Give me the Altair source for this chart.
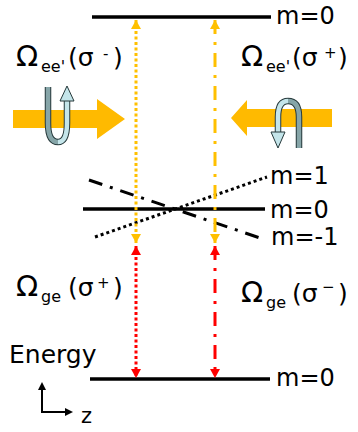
import altair as alt
import pandas as pd

W, H = 358, 432

# Energy levels (screen units, y grows downward) and their horizontal extent
level_y = [17, 209, 379]
level_x0 = [92, 83, 90]
level_x1 = [271, 265, 270]
level_text = ["m=0", "m=0", "m=0"]
level_text_x = [276, 270, 276]
level_text_y = [24, 218, 386]

# Zeeman-shifted sublevels of the middle state
sub_text = ["m=1", "m=-1"]
sub_x0 = [95, 89]
sub_y0 = [237, 180]
sub_x1 = [267, 263]
sub_y1 = [177, 239]
sub_text_x = [270, 271]
sub_text_y = [184, 245]

# Coupling beams: sigma+/sigma- columns and their end points
beam_x = [136, 215]
upper_span = (20, 243)   # e' <-> e
lower_span = (246, 378)  # e <-> g
orange = "#FFC000"
red = "#FF0000"

xs = alt.Scale(domain=[0, W], range=[0, W], nice=False, zero=False)
ys = alt.Scale(domain=[0, H], range=[0, H], nice=False, zero=False)
X = lambda f: alt.X(f, type="quantitative", scale=xs, axis=None)
Y = lambda f: alt.Y(f, type="quantitative", scale=ys, axis=None)

levels = pd.DataFrame({"x": level_x0, "x2": level_x1, "y": level_y})
level_rules = alt.Chart(levels).mark_rule(color="black", strokeWidth=3.5).encode(
    x=X("x"), x2="x2", y=Y("y"))

subs = pd.DataFrame({"x": sub_x0, "y": sub_y0, "x2": sub_x1, "y2": sub_y1, "name": sub_text})
m_plus = alt.Chart(subs[subs.name == "m=1"]).mark_rule(
    color="black", strokeWidth=3, strokeDash=[3, 3]).encode(x=X("x"), y=Y("y"), x2="x2", y2="y2")
m_minus = alt.Chart(subs[subs.name == "m=-1"]).mark_rule(
    color="black", strokeWidth=3, strokeDash=[14, 8, 3, 8]).encode(x=X("x"), y=Y("y"), x2="x2", y2="y2")

def beam(x, span, color, dash):
    df = pd.DataFrame({"x": [x], "y": [span[0]], "y2": [span[1]]})
    line = alt.Chart(df).mark_rule(color=color, strokeWidth=3, strokeDash=dash).encode(
        x=X("x"), y=Y("y"), y2="y2")
    up = alt.Chart(pd.DataFrame({"x": [x], "y": [span[0]]})).mark_point(
        shape="M0,0 L-5,9 L5,9 Z", size=4, filled=True, fill=color, opacity=1, strokeWidth=0
    ).encode(x=X("x"), y=Y("y"))
    down = alt.Chart(pd.DataFrame({"x": [x], "y": [span[1]]})).mark_point(
        shape="M0,0 L-5,-9 L5,-9 Z", size=4, filled=True, fill=color, opacity=1, strokeWidth=0
    ).encode(x=X("x"), y=Y("y"))
    return [line, up, down]

dotted = [3, 2.5]
dashdot = [14, 8, 3, 8]
beams = (beam(beam_x[0], upper_span, orange, dotted) + beam(beam_x[1], upper_span, orange, dashdot)
         + beam(beam_x[0], lower_span, red, dotted) + beam(beam_x[1], lower_span, red, dashdot))

def shape(x, y, path, **style):
    df = pd.DataFrame({"x": [x], "y": [y]})
    return alt.Chart(df).mark_point(shape=path, size=4, opacity=1, **style).encode(x=X("x"), y=Y("y"))

# Counter-propagating laser beams
big_arrows = [
    shape(69, 119, "M-56,-9 L28,-9 L28,-20 L56,0 L28,20 L28,9 L-56,9 Z",
          filled=True, fill="#FFBA00", strokeWidth=0),
    shape(282, 118, "M-51,0 L-35,-18 L-35,-9 L50,-9 L50,9 L-35,9 L-35,18 Z",
          filled=True, fill="#FFBA00", strokeWidth=0),
]

outline = "#26393b"
dark = "#86a5a8"
light = "#c4e5ea"

def band(x, y, path, color):
    return [shape(x, y, path, filled=False, stroke=outline, strokeWidth=6.5),
            shape(x, y, path, filled=False, stroke=color, strokeWidth=4.5)]

# Circular-polarisation glyphs
pol = (band(57, 115, "M-9,-28 L-9,8 Q-9,27 1,27", dark)
       + band(57, 115, "M1,27 Q10,27 10,8 L10,-14", light)
       + [shape(57, 115, "M10,-29 L3,-14 L17,-14 Z", filled=True, fill=light, stroke=outline, strokeWidth=1)]
       + band(288, 125, "M0,-24 Q-10,-24 -10,-8 L-10,7", light)
       + [shape(288, 125, "M-10,23 L-17,7 L-3,7 Z", filled=True, fill=light, stroke=outline, strokeWidth=1)]
       + band(288, 125, "M0,-24 Q11,-24 11,-8 L11,23", dark))

# Text pieces: Rabi-frequency labels built from main text, subscripts and superscripts
txt = [
    ("Ω", 16, 66, 29), ("ee'", 41, 72, 16), ("(σ", 68, 66, 25), ("-", 103, 59, 15), (")", 113, 66, 25),
    ("Ω", 241, 66, 29), ("ee'", 266, 72, 16), ("(σ", 292, 66, 25), ("+", 324, 58, 15), (")", 338, 66, 25),
    ("Ω", 16, 296, 29), ("ge", 41, 302, 16), ("(σ", 68, 296, 25), ("+", 97, 288, 15), (")", 113, 296, 25),
    ("Ω", 241, 302, 29), ("ge", 266, 308, 16), ("(σ", 292, 302, 25), ("−", 322, 292, 15), (")", 338, 302, 25),
    ("Energy", 9, 363, 25), ("z", 81, 423, 21),
]
for t, x, y in zip(level_text, level_text_x, level_text_y):
    txt.append((t, x, y, 24))
for t, x, y in zip(sub_text, sub_text_x, sub_text_y):
    txt.append((t, x, y, 24))
labels = pd.DataFrame(txt, columns=["t", "x", "y", "s"])
text_layer = alt.Chart(labels).mark_text(
    align="left", baseline="alphabetic", font="DejaVu Sans", color="black").encode(
    x=X("x"), y=Y("y"), text="t:N", size=alt.Size("s:Q", scale=None, legend=None))

# Energy / z axes glyph
axes_glyph = [
    alt.Chart(pd.DataFrame({"x": [42], "y": [388], "y2": [413]})).mark_rule(
        color="black", strokeWidth=2).encode(x=X("x"), y=Y("y"), y2="y2"),
    alt.Chart(pd.DataFrame({"x": [41], "x2": [67], "y": [412]})).mark_rule(
        color="black", strokeWidth=2).encode(x=X("x"), x2="x2", y=Y("y")),
    shape(42, 382, "M0,0 L-4,8 L4,8 Z", filled=True, fill="black", strokeWidth=0),
    shape(73, 412, "M0,0 L-8,-4 L-8,4 Z", filled=True, fill="black", strokeWidth=0),
]

chart = alt.layer(
    *big_arrows, *pol, level_rules, m_plus, m_minus, *beams, *axes_glyph, text_layer
).properties(width=W, height=H, padding=0, autosize="none", background="white"
).configure_view(strokeWidth=0)

chart.save("out.html", embed_options={"renderer": "svg", "actions": False})
